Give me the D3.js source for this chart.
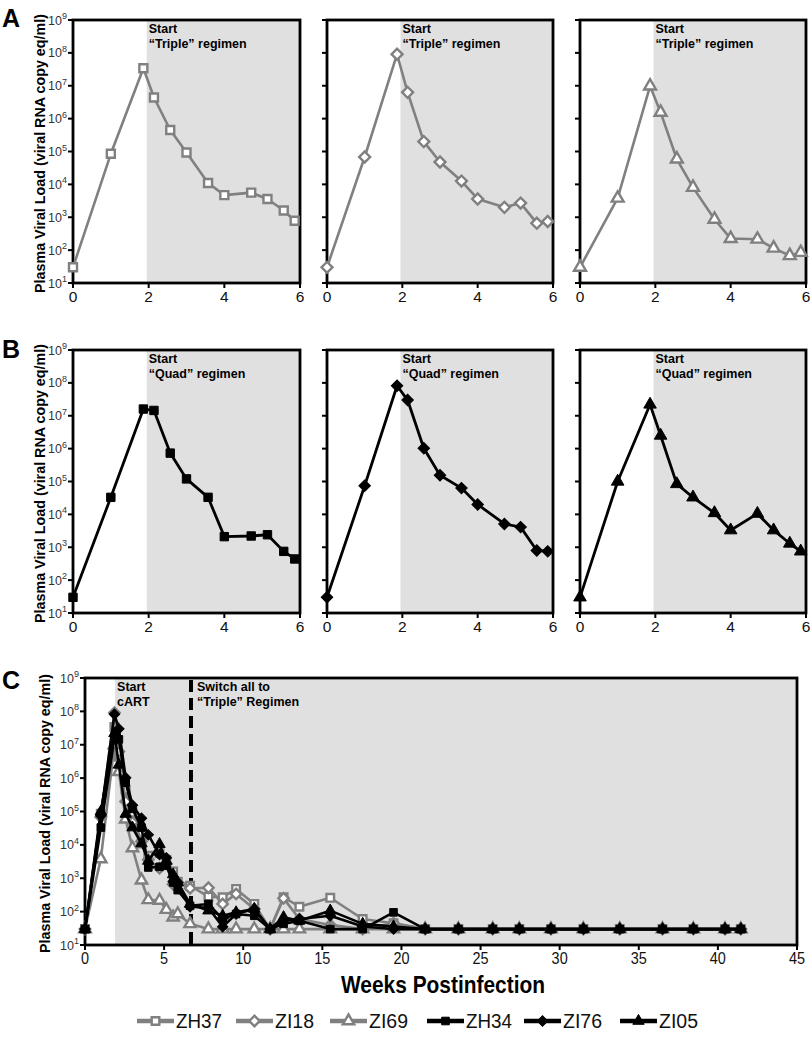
<!DOCTYPE html>
<html><head><meta charset="utf-8">
<script src="https://cdn.jsdelivr.net/npm/d3@7"></script>
<style>body{margin:0;background:#fff}svg{display:block}</style>
</head><body>
<svg id="chart" width="810" height="1044"></svg>
<script>
// ---------------- DATA ----------------
const seriesNames = ["ZH37", "ZI18", "ZI69", "ZH34", "ZI76", "ZI05"];
const weeksEarly = [0, 1, 1.86, 2.14, 2.57, 3, 3.57, 4, 4.71, 5.14, 5.57, 5.86];
const weeksLate = [6.64, 7.8, 8.7, 9.55, 10.7, 11.7, 12.55, 13.55, 15.5, 17.55, 19.5, 21.5, 23.6, 25.77, 27.45, 29.45, 31.5, 33.8, 36.5, 38.45, 40.45, 41.45];

const earlyZH37 = [30, 85000, 34000000, 4400000, 450000, 93000, 11000, 4700, 5600, 3600, 1600, 780];
const earlyZI18 = [30, 68000, 91000000, 6300000, 200000, 48000, 12600, 3600, 2000, 2700, 660, 740];
const earlyZI69 = [30, 3800, 9800000, 1550000, 59000, 8100, 870, 225, 215, 115, 68, 85];
const earlyZH34 = [30, 33000, 16000000, 14500000, 730000, 120000, 33000, 2100, 2200, 2400, 750, 440];
const earlyZI76 = [30, 74000, 82000000, 30000000, 1030000, 155000, 63000, 20000, 5100, 4100, 800, 750];
const earlyZI05 = [30, 100000, 22000000, 2500000, 84000, 33000, 11000, 3300, 10500, 3300, 1300, 750];

const lateZH37 = [600, 280, 270, 480, 170, 30, 270, 140, 260, 60, 45, 30, 30, 30, 30, 30, 30, 30, 30, 30, 30, 30];
const lateZI18 = [500, 520, 170, 340, 120, 30, 250, 60, 40, 30, 45, 30, 30, 30, 30, 30, 30, 30, 30, 30, 30, 30];
const lateZI69 = [43, 30, 30, 30, 30, 30, 30, 30, 30, 30, 30, 30, 30, 30, 30, 30, 30, 30, 30, 30, 30, 30];
const lateZH34 = [150, 170, 60, 85, 75, 30, 43, 53, 30, 30, 95, 30, 30, 30, 30, 30, 30, 30, 30, 30, 30, 30];
const lateZI76 = [140, 130, 35, 85, 120, 30, 53, 60, 75, 36, 30, 30, 30, 30, 30, 30, 30, 30, 30, 30, 30, 30];
const lateZI05 = [170, 107, 75, 95, 120, 30, 68, 53, 107, 43, 36, 30, 30, 30, 30, 30, 30, 30, 30, 30, 30, 30];

const yTickExponents = [1, 2, 3, 4, 5, 6, 7, 8, 9];
const xTicksShort = [0, 2, 4, 6];
const xTicksLong = [0, 5, 10, 15, 20, 25, 30, 35, 40, 45];
const yLabelText = "Plasma Viral Load (viral RNA copy eq/ml)";

// ---------------- STYLE ----------------
const GRAY = "#808080", BLACK = "#000", SHADE = "#e0e0e0";
const styles = {
  ZH37: {color: GRAY, sym: "square", fill: false},
  ZI18: {color: GRAY, sym: "diamond", fill: false},
  ZI69: {color: GRAY, sym: "triangle", fill: false},
  ZH34: {color: BLACK, sym: "square", fill: true},
  ZI76: {color: BLACK, sym: "diamond", fill: true},
  ZI05: {color: BLACK, sym: "triangle", fill: true}
};
const earlyData = {ZH37: earlyZH37, ZI18: earlyZI18, ZI69: earlyZI69, ZH34: earlyZH34, ZI76: earlyZI76, ZI05: earlyZI05};
const lateData = {ZH37: lateZH37, ZI18: lateZI18, ZI69: lateZI69, ZH34: lateZH34, ZI76: lateZI76, ZI05: lateZI05};

const FONT = "Liberation Sans, Arial, Helvetica, sans-serif";

const svg = d3.select("#chart");

function symPath(sym, k) {
  if (sym === "square") return d3.symbol(d3.symbolSquare, 64 * k * k)();
  if (sym === "diamond") return d3.symbol(d3.symbolSquare, 60 * k * k)();
  return d3.symbol(d3.symbolTriangle, 62 * k * k)();
}

function drawMarkers(g, pts, name, x, y, k, sw) {
  const st = styles[name];
  g.append("g").selectAll("path").data(pts).join("path")
    .attr("d", symPath(st.sym, k))
    .attr("transform", d => `translate(${x(d.w)},${y(d.v)})` + (st.sym === "diamond" ? " rotate(45)" : ""))
    .attr("fill", st.fill ? st.color : "#fff")
    .attr("stroke", st.color)
    .attr("stroke-width", st.fill ? 1 : sw)
    .attr("stroke-linejoin", "miter");
}

function panel(o) {
  const g = svg.append("g");
  const x = d3.scaleLinear().domain([0, o.xMax]).range([o.x0, o.x1]);
  const y = d3.scaleLog().domain([10, 1e9]).range([o.y1, o.y0]);
  g.append("rect").attr("x", x(o.shadeFrom)).attr("y", o.y0)
    .attr("width", o.x1 - x(o.shadeFrom)).attr("height", o.y1 - o.y0).attr("fill", SHADE);
  const yt = g.append("g");
  yt.selectAll("line").data(yTickExponents).join("line")
    .attr("x1", o.x0 - 5).attr("x2", o.x0).attr("y1", e => y(10 ** e)).attr("y2", e => y(10 ** e))
    .attr("stroke", "#000").attr("stroke-width", 2);
  if (o.yLabels) {
    yTickExponents.forEach(e => {
      const t = g.append("text").attr("x", o.x0 - 6).attr("y", y(10 ** e) + 4.5)
        .attr("text-anchor", "end").attr("font-family", FONT).attr("font-size", 12.5).attr("fill", "#333");
      t.append("tspan").text("10");
      t.append("tspan").attr("dy", -5.5).attr("font-size", 9).text(e);
    });
    g.append("text")
      .attr("transform", `translate(${o.yTitleX},${(o.y0 + o.y1) / 2 + 2}) rotate(-90)`)
      .attr("text-anchor", "middle").attr("font-family", FONT).attr("font-weight", "bold")
      .attr("font-size", o.yTitleSize).text(yLabelText);
  }
  g.append("g").selectAll("line").data(o.xTicks).join("line")
    .attr("x1", d => x(d)).attr("x2", d => x(d)).attr("y1", o.y1).attr("y2", o.y1 + 5)
    .attr("stroke", "#000").attr("stroke-width", 2);
  g.append("g").selectAll("text").data(o.xTicks).join("text")
    .attr("x", d => x(d)).attr("y", o.y1 + 19).attr("text-anchor", "middle")
    .attr("font-family", FONT).attr("font-size", o.xFontSize).attr("fill", "#111")
    .attr("transform", d => `translate(${x(d)},${o.y1 + 19}) scale(${o.xScaleX},1) translate(${-x(d)},${-(o.y1 + 19)})`)
    .text(d => d);
  g.append("rect").attr("x", o.x0).attr("y", o.y0).attr("width", o.x1 - o.x0).attr("height", o.y1 - o.y0)
    .attr("fill", "none").attr("stroke", "#000").attr("stroke-width", 2.8);
  (o.notes || []).forEach(n => {
    const nx = n.x === undefined ? x(o.shadeFrom) + 2 : x(n.x) + n.dx;
    const t = g.append("text").attr("x", nx)
      .attr("y", o.y0 + 13).attr("font-family", FONT).attr("font-weight", "bold").attr("font-size", 12.5);
    n.lines.forEach((ln, i) => t.append("tspan").attr("x", nx).attr("dy", i === 0 ? 0 : 15).text(ln));
  });
  if (o.dashAt !== undefined) {
    g.append("line").attr("x1", x(o.dashAt)).attr("x2", x(o.dashAt)).attr("y1", o.y0 + 2).attr("y2", o.y1)
      .attr("stroke", "#000").attr("stroke-width", 4).attr("stroke-dasharray", "12,6");
  }
  o.series.forEach(s => {
    const st = styles[s.name];
    const pts = s.w.map((w, i) => ({w, v: s.v[i]}));
    g.append("path").datum(pts)
      .attr("d", d3.line().x(d => x(d.w)).y(d => y(d.v)))
      .attr("fill", "none").attr("stroke", st.color).attr("stroke-width", o.lw).attr("stroke-linejoin", "round");
    drawMarkers(g, pts, s.name, x, y, o.mk, 2.4);
  });
  if (o.letter) {
    svg.append("text").attr("x", 2).attr("y", o.letterY).attr("font-family", FONT)
      .attr("font-weight", "bold").attr("font-size", 25).text(o.letter);
  }
}

const rowA = {y0: 20, y1: 283};
const rowB = {y0: 350, y1: 613};
const cols = [[73, 300], [327, 553], [580, 806]];

["ZH37", "ZI18", "ZI69"].forEach((nm, i) => panel({
  x0: cols[i][0], x1: cols[i][1], y0: rowA.y0, y1: rowA.y1, xMax: 6, xTicks: xTicksShort, shadeFrom: 1.95,
  yLabels: i === 0, yTitleX: 45, yTitleSize: 14.3, xFontSize: 15.5, xScaleX: 1, lw: 2.6, mk: 1,
  notes: [{lines: ["Start", "\u201CTriple\u201D regimen"]}],
  series: [{name: nm, w: weeksEarly, v: earlyData[nm]}], letter: i === 0 ? "A" : null, letterY: 27
}));
["ZH34", "ZI76", "ZI05"].forEach((nm, i) => panel({
  x0: cols[i][0], x1: cols[i][1], y0: rowB.y0, y1: rowB.y1, xMax: 6, xTicks: xTicksShort, shadeFrom: 1.95,
  yLabels: i === 0, yTitleX: 45, yTitleSize: 14.3, xFontSize: 15.5, xScaleX: 1, lw: 2.8, mk: 1.05,
  notes: [{lines: ["Start", "\u201CQuad\u201D regimen"]}],
  series: [{name: nm, w: weeksEarly, v: earlyData[nm]}], letter: i === 0 ? "B" : null, letterY: 358
}));
panel({
  x0: 85, x1: 797, y0: 678, y1: 945, xMax: 45, xTicks: xTicksLong, shadeFrom: 1.9,
  yLabels: true, yTitleX: 50, yTitleSize: 14.3, xFontSize: 17, xScaleX: 0.85, lw: 2.6, mk: 0.95,
  notes: [{lines: ["Start", "cART"]}, {x: 6.7, dx: 6, lines: ["Switch all to", "\u201CTriple\u201D Regimen"]}],
  dashAt: 6.7,
  series: seriesNames.map(nm => ({name: nm, w: weeksEarly.concat(weeksLate), v: earlyData[nm].concat(lateData[nm])})),
  letter: "C", letterY: 689
});

svg.append("text").attr("x", 443).attr("y", 993).attr("text-anchor", "middle")
  .attr("font-family", FONT).attr("font-weight", "bold").attr("font-size", 24)
  .attr("textLength", 204).attr("lengthAdjust", "spacingAndGlyphs").text("Weeks Postinfection");

// legend
const legX = [137, 236, 330, 427, 524, 620];
const lg = svg.append("g");
seriesNames.forEach((nm, i) => {
  const st = styles[nm];
  const x0 = legX[i], yc = 1021;
  lg.append("line").attr("x1", x0).attr("x2", x0 + 37).attr("y1", yc).attr("y2", yc)
    .attr("stroke", st.color).attr("stroke-width", 4.5);
  const sx = d3.scaleLinear().domain([0, 1]).range([x0 + 18.5, x0 + 19.5]);
  const sy = d3.scaleLinear().domain([0, 1]).range([yc, yc]);
  drawMarkers(lg, [{w: 0, v: 0}], nm, sx, sy, 0.95, 2.4);
  lg.append("text").attr("x", x0 + 39).attr("y", yc + 7).attr("font-family", FONT)
    .attr("font-size", 20).attr("fill", "#111").attr("textLength", nm === "ZH37" || nm === "ZH34" ? 46 : 39)
    .attr("lengthAdjust", "spacingAndGlyphs").text(nm);
});
</script>
</body></html>
